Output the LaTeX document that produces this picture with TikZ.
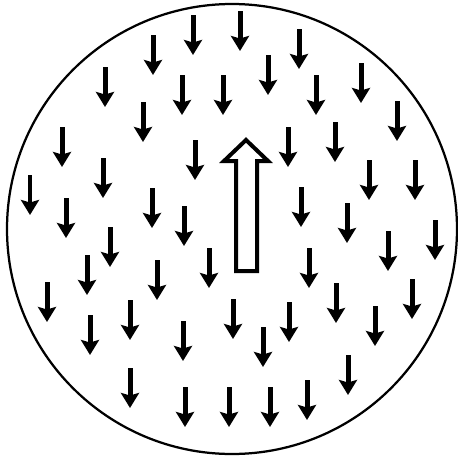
\documentclass[tikz,border=0pt]{standalone}
\usepackage{tikz}
\usetikzlibrary{arrows.meta}

\begin{document}
\begin{tikzpicture}[
  x=0.02cm, y=-0.02cm,
  rim/.style={draw, line width=0.045cm},
  spin/.style={line width=0.1cm, -{Stealth[length=0.3cm, width=0.36cm, inset=0.05cm]}},
  bigspin/.style={draw, fill=white, line width=0.08cm, line join=miter}
]
\useasboundingbox (0,0) rectangle (457,460);
\draw[rim] (232,229) circle[radius=225];
% small spins pointing down
\foreach \px/\py in {153/35, 193/15, 240/11, 299/29,
  105/67, 182/75, 223/75, 268/55, 316/75, 361/63,
  143/102, 397/101, 62/127,
  195/140, 288/127, 335/122,
  103/158, 30/175, 369/160, 415/160,
  66/198, 152/188, 184/206, 301/187, 347/203, 435/220,
  110/227, 209/248, 309/248, 388/231,
  87/255, 157/260, 336/283, 412/279,
  47/282, 130/300, 233/299, 289/302, 375/306,
  90/315, 183/321, 263/327,
  130/368, 348/355,
  185/387, 229/387, 270/387, 307/380}
  \draw[spin] (\px,\py) -- (\px,\py+40);
% big hollow spin pointing up
\draw[bigspin] (246,140) -- (268,161) -- (257,161) -- (257,271)
  -- (236,271) -- (236,161) -- (224,161) -- cycle;
\end{tikzpicture}
\end{document}
